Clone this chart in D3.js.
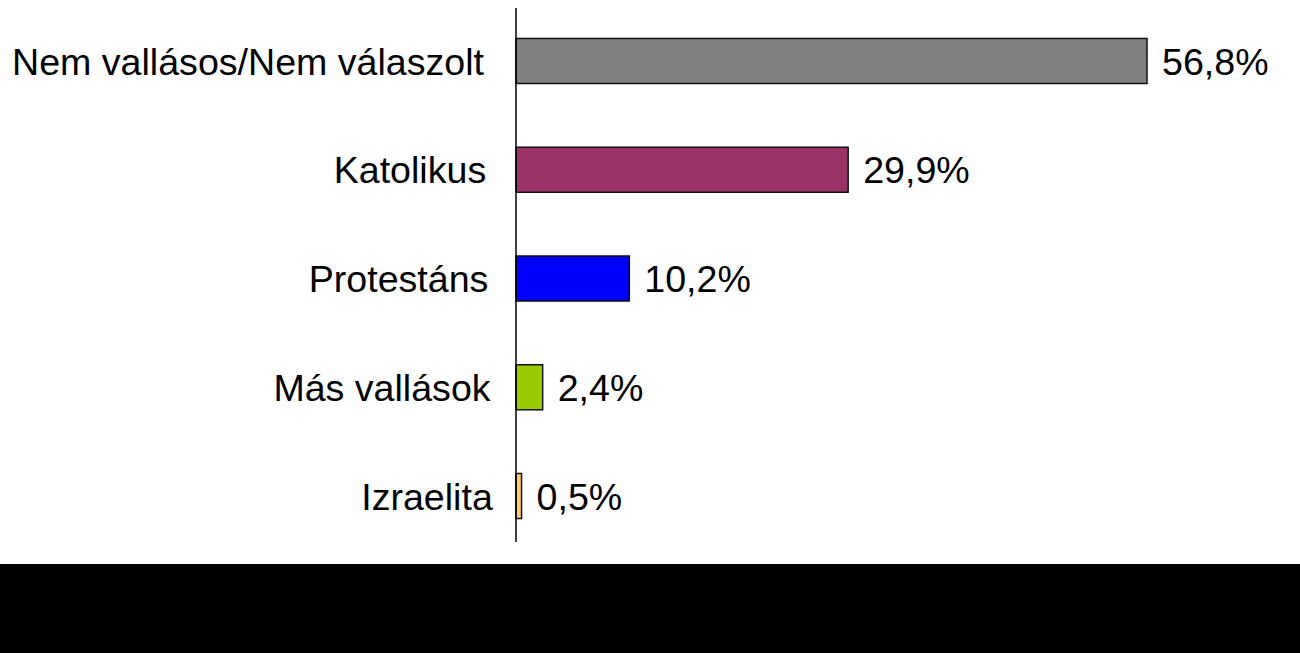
<!DOCTYPE html>
<html>
<head>
<meta charset="utf-8">
<script src="https://cdn.jsdelivr.net/npm/d3@7"></script>
<style>
  html, body { margin: 0; padding: 0; background: #fff; }
  svg { display: block; }
</style>
</head>
<body>
<div id="chart"></div>
<script>
// ---- data ----
const categories = ['Nem vallásos/Nem válaszolt', 'Katolikus', 'Protestáns', 'Más vallások', 'Izraelita'];
const values = [56.8, 29.9, 10.2, 2.4, 0.5];
const valueLabels = ['56,8%', '29,9%', '10,2%', '2,4%', '0,5%'];
const barColors = ['#808080', '#993366', '#0000ff', '#99cc00', '#ffcc66'];

// ---- layout ----
const W = 1300, H = 653;
const FONT = '"Liberation Sans", Arial, sans-serif';
const FS = 37.6;

const svg = d3.select('#chart').append('svg')
  .attr('width', W)
  .attr('height', H)
  .attr('viewBox', `0 0 ${W} ${H}`);

svg.append('rect').attr('width', W).attr('height', H).attr('fill', '#fff');

const x = d3.scaleLinear().domain([0, 56.8]).range([516, 1147]);
const y = d3.scaleBand()
  .domain(categories)
  .range([6.6, 550.4])
  .paddingInner(0.586)
  .paddingOuter(0.293);

const rows = categories.map((c, i) => ({ cat: c, v: values[i], label: valueLabels[i], color: barColors[i] }));

// bars
svg.append('g').selectAll('rect')
  .data(rows)
  .join('rect')
  .attr('x', x(0))
  .attr('y', d => y(d.cat))
  .attr('width', d => x(d.v) - x(0))
  .attr('height', y.bandwidth())
  .attr('fill', d => d.color)
  .attr('stroke', '#111')
  .attr('stroke-width', 1.5);

// vertical category axis line
svg.append('line')
  .attr('x1', x(0)).attr('x2', x(0))
  .attr('y1', 8).attr('y2', 542)
  .attr('stroke', '#000')
  .attr('stroke-width', 1.5);

// category labels (slightly staggered right edges, as in the original export)
svg.append('g').selectAll('text')
  .data(rows)
  .join('text')
  .attr('x', (d, i) => 484 + i * 2.2)
  .attr('y', d => y(d.cat) + y.bandwidth() / 2)
  .attr('dy', '0.36em')
  .attr('text-anchor', 'end')
  .attr('font-family', FONT)
  .attr('font-size', FS)
  .attr('fill', '#000')
  .text(d => d.cat);

// value labels
svg.append('g').selectAll('text')
  .data(rows)
  .join('text')
  .attr('x', d => x(d.v) + 15)
  .attr('y', d => y(d.cat) + y.bandwidth() / 2)
  .attr('dy', '0.36em')
  .attr('font-family', FONT)
  .attr('font-size', FS)
  .attr('fill', '#000')
  .text(d => d.label);

// dark footer band
svg.append('rect')
  .attr('x', 0).attr('y', 564)
  .attr('width', W).attr('height', H - 564)
  .attr('fill', '#000');
</script>
</body>
</html>
